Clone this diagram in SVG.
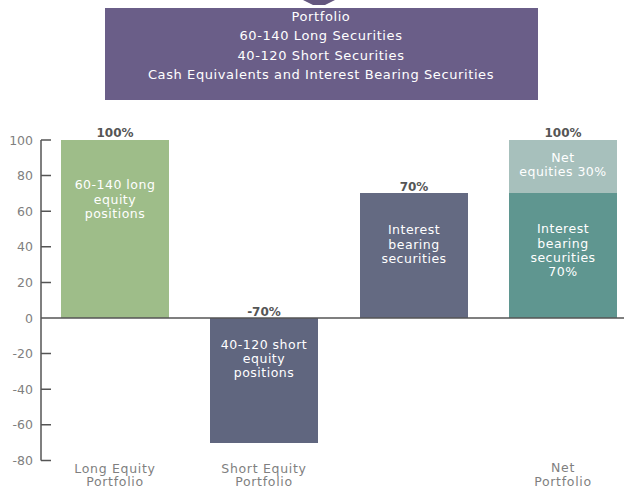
<svg xmlns="http://www.w3.org/2000/svg" width="624" height="489" viewBox="0 0 624 489">
<style>
text{font-family:"DejaVu Sans","Liberation Sans",sans-serif}
.title{fill:#fff;font-size:13px;letter-spacing:0.6px;text-anchor:middle}
.ax{fill:#7f7f7f;font-size:12.5px;text-anchor:end}
.cat{fill:#7f7f7f;font-size:12.5px;letter-spacing:0.7px;text-anchor:middle}
.val{fill:#555;font-size:12px;font-weight:bold;text-anchor:middle}
.in{fill:#fff;font-size:12.5px;letter-spacing:0.5px;text-anchor:middle}
.axis{stroke:#555;stroke-width:1.5;fill:none}
</style>
<rect width="624" height="489" fill="#fff"/>
<g id="header">
<polygon points="303,0 335,0 325,5 313,5" fill="#64577f"/>
<rect x="105" y="8" width="433" height="92" fill="#6a5e88"/>
<text class="title" x="321" y="20.5">Portfolio</text>
<text class="title" x="321" y="40">60-140 Long Securities</text>
<text class="title" x="321" y="59.5">40-120 Short Securities</text>
<text class="title" x="321" y="79">Cash Equivalents and Interest Bearing Securities</text>
</g>
<g id="axis">
<path class="axis" d="M41,140V460.5M41,140H51M41,175.6H51M41,211.2H51M41,246.8H51M41,282.4H51M41,353.6H51M41,389.2H51M41,424.8H51M41,460.4H51"/>
<text class="ax" x="33" y="144.5">100</text>
<text class="ax" x="33" y="180">80</text>
<text class="ax" x="33" y="215.5">60</text>
<text class="ax" x="33" y="251">40</text>
<text class="ax" x="33" y="287">20</text>
<text class="ax" x="33" y="322.5">0</text>
<text class="ax" x="33" y="358">-20</text>
<text class="ax" x="33" y="393.5">-40</text>
<text class="ax" x="33" y="429">-60</text>
<text class="ax" x="33" y="465">-80</text>
</g>
<g id="bar-long">
<rect x="61" y="140" width="108" height="178" fill="#9ebd89"/>
<text class="val" x="115" y="137">100%</text>
<text class="in" x="115" y="189">60-140 long</text>
<text class="in" x="115" y="203.5">equity</text>
<text class="in" x="115" y="218">positions</text>
<text class="cat" x="115" y="472.5">Long Equity</text>
<text class="cat" x="115" y="486">Portfolio</text>
</g>
<g id="bar-short">
<rect x="210" y="318" width="108" height="125" fill="#60667f"/>
<text class="val" x="264" y="315.5">-70%</text>
<text class="in" x="264" y="349">40-120 short</text>
<text class="in" x="264" y="363">equity</text>
<text class="in" x="264" y="377">positions</text>
<text class="cat" x="264" y="472.5">Short Equity</text>
<text class="cat" x="264" y="486">Portfolio</text>
</g>
<g id="bar-interest">
<rect x="360" y="193" width="108" height="125" fill="#646a82"/>
<text class="val" x="414" y="191">70%</text>
<text class="in" x="414" y="234">Interest</text>
<text class="in" x="414" y="248.5">bearing</text>
<text class="in" x="414" y="263">securities</text>
</g>
<g id="bar-net">
<rect x="509" y="140" width="108" height="53" fill="#a7c0bc"/>
<rect x="509" y="193" width="108" height="125" fill="#5f9690"/>
<text class="val" x="563" y="137">100%</text>
<text class="in" x="563" y="162">Net</text>
<text class="in" x="563" y="176">equities 30%</text>
<text class="in" x="563" y="233">Interest</text>
<text class="in" x="563" y="247.5">bearing</text>
<text class="in" x="563" y="262">securities</text>
<text class="in" x="563" y="276">70%</text>
<text class="cat" x="563" y="472">Net</text>
<text class="cat" x="563" y="486">Portfolio</text>
</g>
<g id="connectors">
<path class="axis" d="M41,318H624"/>
</g>
</svg>
